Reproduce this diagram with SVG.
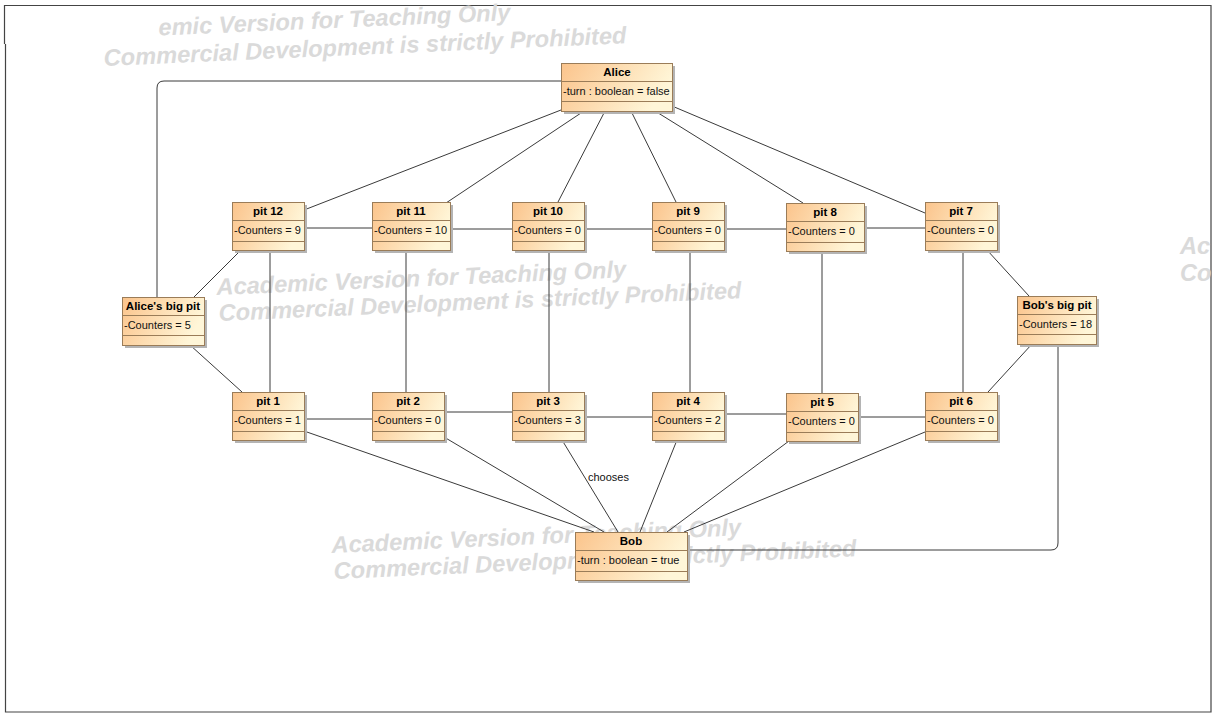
<svg xmlns="http://www.w3.org/2000/svg" width="1226" height="726" viewBox="0 0 1226 726">
<defs>
<linearGradient id="g" x1="0" y1="0" x2="1" y2="0.3">
<stop offset="0" stop-color="#fbc48c"/>
<stop offset="1" stop-color="#fff6d8"/>
</linearGradient>
<style>
.wm{font-family:"Liberation Sans",Arial,sans-serif;font-size:23.6px;font-weight:bold;font-style:italic;fill:#dadada}
.sh{fill:#b4b4b4}
.bx{fill:url(#g);stroke:#9a7c58;stroke-width:1}
.dv{stroke:#9a7c58;stroke-width:1}
.t{font-family:"Liberation Sans",Arial,sans-serif;font-size:11.5px;font-weight:bold;fill:#000;text-anchor:middle}
.a{font-family:"Liberation Sans",Arial,sans-serif;font-size:11px;fill:#111}
.c{stroke:#3a3a3a;stroke-width:1;fill:none}
.fr{stroke:#444;stroke-width:1.2;fill:none}
.lb{font-family:"Liberation Sans",Arial,sans-serif;font-size:11px;fill:#111}
</style>
</defs>
<rect width="1226" height="726" fill="#fff"/>
<g id="frame">
<path class="fr" d="M4.5 44 V5.5 H1211 V712 H5.5 V44"/>
</g>
<g id="watermarks">
<g transform="rotate(-2.5 104 65)">
<text class="wm" x="160" y="38">emic Version for Teaching Only</text>
<text class="wm" x="104" y="66">Commercial Development is strictly Prohibited</text>
</g>
<g transform="rotate(-2.5 219 321)">
<text class="wm" x="218" y="295">Academic Version for Teaching Only</text>
<text class="wm" x="219" y="321">Commercial Development is strictly Prohibited</text>
</g>
<g transform="rotate(-2.5 334 579)">
<text class="wm" x="333" y="553">Academic Version for Teaching Only</text>
<text class="wm" x="334" y="579">Commercial Development is strictly Prohibited</text>
</g>
<text class="wm" x="1180" y="254">Ac</text>
<text class="wm" x="1180" y="281">Co</text>
</g>
<g id="connectors">
<path class="c" d="M561 81 H164 Q157 81 157 88 V297"/>
<path class="c" d="M1058 345 V543 Q1058 550 1051 550 H688"/>
<line class="c" x1="561" y1="110" x2="304" y2="210"/>
<line class="c" x1="584" y1="111" x2="446" y2="203"/>
<line class="c" x1="605" y1="111" x2="558" y2="202"/>
<line class="c" x1="631" y1="111" x2="676" y2="202"/>
<line class="c" x1="655" y1="111" x2="803" y2="203"/>
<line class="c" x1="672" y1="106" x2="925" y2="213"/>
<line class="c" x1="304" y1="228" x2="372" y2="228"/>
<line class="c" x1="450" y1="229" x2="512" y2="229"/>
<line class="c" x1="584" y1="229" x2="652" y2="229"/>
<line class="c" x1="724" y1="229" x2="786" y2="229"/>
<line class="c" x1="864" y1="228" x2="925" y2="228"/>
<line class="c" x1="270" y1="250" x2="270" y2="392"/>
<line class="c" x1="406" y1="250" x2="406" y2="392"/>
<line class="c" x1="549" y1="250" x2="549" y2="392"/>
<line class="c" x1="690" y1="250" x2="690" y2="392"/>
<line class="c" x1="822" y1="251" x2="822" y2="393"/>
<line class="c" x1="963" y1="250" x2="963" y2="392"/>
<line class="c" x1="241" y1="250" x2="194" y2="297"/>
<line class="c" x1="190" y1="345" x2="242" y2="392"/>
<line class="c" x1="987" y1="250" x2="1029" y2="296"/>
<line class="c" x1="1032" y1="344" x2="988" y2="392"/>
<line class="c" x1="304" y1="419" x2="372" y2="419"/>
<line class="c" x1="444" y1="412" x2="512" y2="412"/>
<line class="c" x1="584" y1="417" x2="652" y2="417"/>
<line class="c" x1="724" y1="414" x2="786" y2="414"/>
<line class="c" x1="858" y1="417" x2="925" y2="417"/>
<line class="c" x1="304" y1="431" x2="594" y2="532"/>
<line class="c" x1="444" y1="437" x2="604" y2="532"/>
<line class="c" x1="562" y1="440" x2="618" y2="532"/>
<line class="c" x1="677" y1="440" x2="640" y2="532"/>
<line class="c" x1="789" y1="441" x2="667" y2="532"/>
<line class="c" x1="925" y1="432" x2="684" y2="532"/>
<text class="lb" x="588" y="481">chooses</text>
</g>
<g id="alice">
<rect class="sh" x="564" y="66" width="111" height="48"/>
<rect class="bx" x="561.5" y="63.5" width="111" height="48"/>
<line class="dv" x1="561.5" y1="81.5" x2="672.5" y2="81.5"/>
<line class="dv" x1="561.5" y1="101.5" x2="672.5" y2="101.5"/>
<text class="t" x="617" y="76">Alice</text>
<text class="a" x="563" y="95">-turn : boolean = false</text>
</g>
<g id="bob">
<rect class="sh" x="578" y="535" width="112" height="48"/>
<rect class="bx" x="575.5" y="532.5" width="112" height="48"/>
<line class="dv" x1="575.5" y1="550.5" x2="687.5" y2="550.5"/>
<line class="dv" x1="575.5" y1="571.5" x2="687.5" y2="571.5"/>
<text class="t" x="631" y="545">Bob</text>
<text class="a" x="577" y="564">-turn : boolean = true</text>
</g>
<g id="alices-big-pit">
<rect class="sh" x="125" y="300" width="82" height="48"/>
<rect class="bx" x="122.5" y="297.5" width="82" height="48"/>
<line class="dv" x1="122.5" y1="315.5" x2="204.5" y2="315.5"/>
<line class="dv" x1="122.5" y1="335.5" x2="204.5" y2="335.5"/>
<text class="t" x="163" y="310">Alice's big pit</text>
<text class="a" x="124" y="329">-Counters = 5</text>
</g>
<g id="bobs-big-pit">
<rect class="sh" x="1020" y="299" width="79" height="48"/>
<rect class="bx" x="1017.5" y="296.5" width="79" height="48"/>
<line class="dv" x1="1017.5" y1="314.5" x2="1096.5" y2="314.5"/>
<line class="dv" x1="1017.5" y1="334.5" x2="1096.5" y2="334.5"/>
<text class="t" x="1057" y="309">Bob's big pit</text>
<text class="a" x="1019" y="328">-Counters = 18</text>
</g>
<g id="pit12">
<rect class="sh" x="235" y="205" width="72" height="48"/>
<rect class="bx" x="232.5" y="202.5" width="72" height="48"/>
<line class="dv" x1="232.5" y1="220.5" x2="304.5" y2="220.5"/>
<line class="dv" x1="232.5" y1="241.5" x2="304.5" y2="241.5"/>
<text class="t" x="268" y="215">pit 12</text>
<text class="a" x="234" y="234">-Counters = 9</text>
</g>
<g id="pit11">
<rect class="sh" x="375" y="205" width="78" height="48"/>
<rect class="bx" x="372.5" y="202.5" width="78" height="48"/>
<line class="dv" x1="372.5" y1="220.5" x2="450.5" y2="220.5"/>
<line class="dv" x1="372.5" y1="241.5" x2="450.5" y2="241.5"/>
<text class="t" x="411" y="215">pit 11</text>
<text class="a" x="374" y="234">-Counters = 10</text>
</g>
<g id="pit10">
<rect class="sh" x="515" y="205" width="72" height="48"/>
<rect class="bx" x="512.5" y="202.5" width="72" height="48"/>
<line class="dv" x1="512.5" y1="220.5" x2="584.5" y2="220.5"/>
<line class="dv" x1="512.5" y1="241.5" x2="584.5" y2="241.5"/>
<text class="t" x="548" y="215">pit 10</text>
<text class="a" x="514" y="234">-Counters = 0</text>
</g>
<g id="pit9">
<rect class="sh" x="655" y="205" width="72" height="48"/>
<rect class="bx" x="652.5" y="202.5" width="72" height="48"/>
<line class="dv" x1="652.5" y1="220.5" x2="724.5" y2="220.5"/>
<line class="dv" x1="652.5" y1="241.5" x2="724.5" y2="241.5"/>
<text class="t" x="688" y="215">pit 9</text>
<text class="a" x="654" y="234">-Counters = 0</text>
</g>
<g id="pit8">
<rect class="sh" x="789" y="206" width="78" height="48"/>
<rect class="bx" x="786.5" y="203.5" width="78" height="48"/>
<line class="dv" x1="786.5" y1="221.5" x2="864.5" y2="221.5"/>
<line class="dv" x1="786.5" y1="242.5" x2="864.5" y2="242.5"/>
<text class="t" x="825" y="216">pit 8</text>
<text class="a" x="788" y="235">-Counters = 0</text>
</g>
<g id="pit7">
<rect class="sh" x="928" y="205" width="72" height="48"/>
<rect class="bx" x="925.5" y="202.5" width="72" height="48"/>
<line class="dv" x1="925.5" y1="220.5" x2="997.5" y2="220.5"/>
<line class="dv" x1="925.5" y1="241.5" x2="997.5" y2="241.5"/>
<text class="t" x="961" y="215">pit 7</text>
<text class="a" x="927" y="234">-Counters = 0</text>
</g>
<g id="pit1">
<rect class="sh" x="235" y="395" width="72" height="48"/>
<rect class="bx" x="232.5" y="392.5" width="72" height="48"/>
<line class="dv" x1="232.5" y1="410.5" x2="304.5" y2="410.5"/>
<line class="dv" x1="232.5" y1="431.5" x2="304.5" y2="431.5"/>
<text class="t" x="268" y="405">pit 1</text>
<text class="a" x="234" y="424">-Counters = 1</text>
</g>
<g id="pit2">
<rect class="sh" x="375" y="395" width="72" height="48"/>
<rect class="bx" x="372.5" y="392.5" width="72" height="48"/>
<line class="dv" x1="372.5" y1="410.5" x2="444.5" y2="410.5"/>
<line class="dv" x1="372.5" y1="431.5" x2="444.5" y2="431.5"/>
<text class="t" x="408" y="405">pit 2</text>
<text class="a" x="374" y="424">-Counters = 0</text>
</g>
<g id="pit3">
<rect class="sh" x="515" y="395" width="72" height="48"/>
<rect class="bx" x="512.5" y="392.5" width="72" height="48"/>
<line class="dv" x1="512.5" y1="410.5" x2="584.5" y2="410.5"/>
<line class="dv" x1="512.5" y1="431.5" x2="584.5" y2="431.5"/>
<text class="t" x="548" y="405">pit 3</text>
<text class="a" x="514" y="424">-Counters = 3</text>
</g>
<g id="pit4">
<rect class="sh" x="655" y="395" width="72" height="48"/>
<rect class="bx" x="652.5" y="392.5" width="72" height="48"/>
<line class="dv" x1="652.5" y1="410.5" x2="724.5" y2="410.5"/>
<line class="dv" x1="652.5" y1="431.5" x2="724.5" y2="431.5"/>
<text class="t" x="688" y="405">pit 4</text>
<text class="a" x="654" y="424">-Counters = 2</text>
</g>
<g id="pit5">
<rect class="sh" x="789" y="396" width="72" height="48"/>
<rect class="bx" x="786.5" y="393.5" width="72" height="48"/>
<line class="dv" x1="786.5" y1="411.5" x2="858.5" y2="411.5"/>
<line class="dv" x1="786.5" y1="432.5" x2="858.5" y2="432.5"/>
<text class="t" x="822" y="406">pit 5</text>
<text class="a" x="788" y="425">-Counters = 0</text>
</g>
<g id="pit6">
<rect class="sh" x="928" y="395" width="72" height="48"/>
<rect class="bx" x="925.5" y="392.5" width="72" height="48"/>
<line class="dv" x1="925.5" y1="410.5" x2="997.5" y2="410.5"/>
<line class="dv" x1="925.5" y1="431.5" x2="997.5" y2="431.5"/>
<text class="t" x="961" y="405">pit 6</text>
<text class="a" x="927" y="424">-Counters = 0</text>
</g>
</svg>
